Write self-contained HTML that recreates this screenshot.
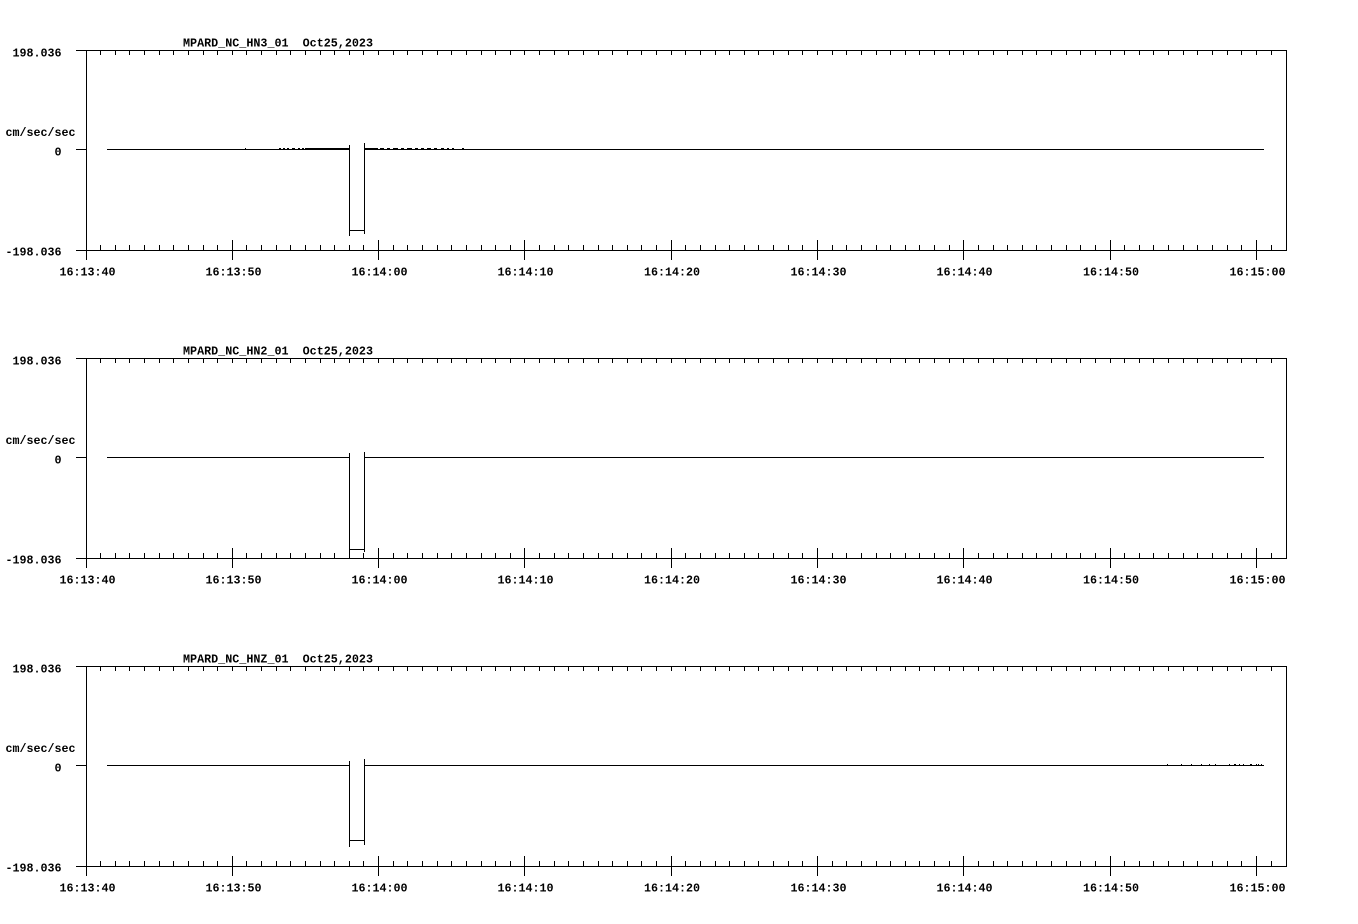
<!DOCTYPE html>
<html>
<head>
<meta charset="utf-8">
<style>
html,body{margin:0;padding:0;background:#fff;}
svg{display:block;}
text{font-family:"Liberation Mono","DejaVu Sans Mono",monospace;font-weight:bold;font-size:12.4px;fill:#000;white-space:pre;}
</style>
</head>
<body>
<svg width="1358" height="924" viewBox="0 0 1358 924" xmlns="http://www.w3.org/2000/svg" xml:space="preserve">
<defs>
<g id="axes">
  <path shape-rendering="crispEdges" stroke="#000" stroke-width="1" fill="none" d="
    M76 50.5 H1286.5 M76 250.5 H1286.5 M1286.5 50 V251 M86.5 50 V260
    M76 149.5 H86
    M232.5 240 V260 M378.5 240 V260 M524.5 240 V260 M671.5 240 V260 M817.5 240 V260 M963.5 240 V260 M1110.5 240 V260 M1256.5 240 V260
    M100.5 50 V55 M115.5 50 V55 M129.5 50 V55 M144.5 50 V55 M159.5 50 V55 M173.5 50 V55 M188.5 50 V55 M203.5 50 V55 M217.5 50 V55 M232.5 50 V55
    M246.5 50 V55 M261.5 50 V55 M276.5 50 V55 M290.5 50 V55 M305.5 50 V55 M320.5 50 V55 M334.5 50 V55 M349.5 50 V55 M363.5 50 V55 M378.5 50 V55
    M393.5 50 V55 M407.5 50 V55 M422.5 50 V55 M437.5 50 V55 M451.5 50 V55 M466.5 50 V55 M481.5 50 V55 M495.5 50 V55 M510.5 50 V55 M524.5 50 V55
    M539.5 50 V55 M554.5 50 V55 M568.5 50 V55 M583.5 50 V55 M598.5 50 V55 M612.5 50 V55 M627.5 50 V55 M641.5 50 V55 M656.5 50 V55 M671.5 50 V55
    M685.5 50 V55 M700.5 50 V55 M715.5 50 V55 M729.5 50 V55 M744.5 50 V55 M758.5 50 V55 M773.5 50 V55 M788.5 50 V55 M802.5 50 V55 M817.5 50 V55
    M832.5 50 V55 M846.5 50 V55 M861.5 50 V55 M876.5 50 V55 M890.5 50 V55 M905.5 50 V55 M919.5 50 V55 M934.5 50 V55 M949.5 50 V55 M963.5 50 V55
    M978.5 50 V55 M993.5 50 V55 M1007.5 50 V55 M1022.5 50 V55 M1036.5 50 V55 M1051.5 50 V55 M1066.5 50 V55 M1080.5 50 V55 M1095.5 50 V55 M1110.5 50 V55
    M1124.5 50 V55 M1139.5 50 V55 M1153.5 50 V55 M1168.5 50 V55 M1183.5 50 V55 M1197.5 50 V55 M1212.5 50 V55 M1227.5 50 V55 M1241.5 50 V55 M1256.5 50 V55
    M1271.5 50 V55
    M100.5 245 V250 M115.5 245 V250 M129.5 245 V250 M144.5 245 V250 M159.5 245 V250 M173.5 245 V250 M188.5 245 V250 M203.5 245 V250 M217.5 245 V250
    M246.5 245 V250 M261.5 245 V250 M276.5 245 V250 M290.5 245 V250 M305.5 245 V250 M320.5 245 V250 M334.5 245 V250 M349.5 245 V250 M363.5 245 V250
    M393.5 245 V250 M407.5 245 V250 M422.5 245 V250 M437.5 245 V250 M451.5 245 V250 M466.5 245 V250 M481.5 245 V250 M495.5 245 V250 M510.5 245 V250
    M539.5 245 V250 M554.5 245 V250 M568.5 245 V250 M583.5 245 V250 M598.5 245 V250 M612.5 245 V250 M627.5 245 V250 M641.5 245 V250 M656.5 245 V250
    M685.5 245 V250 M700.5 245 V250 M715.5 245 V250 M729.5 245 V250 M744.5 245 V250 M758.5 245 V250 M773.5 245 V250 M788.5 245 V250 M802.5 245 V250
    M832.5 245 V250 M846.5 245 V250 M861.5 245 V250 M876.5 245 V250 M890.5 245 V250 M905.5 245 V250 M919.5 245 V250 M934.5 245 V250 M949.5 245 V250
    M978.5 245 V250 M993.5 245 V250 M1007.5 245 V250 M1022.5 245 V250 M1036.5 245 V250 M1051.5 245 V250 M1066.5 245 V250 M1080.5 245 V250 M1095.5 245 V250
    M1124.5 245 V250 M1139.5 245 V250 M1153.5 245 V250 M1168.5 245 V250 M1183.5 245 V250 M1197.5 245 V250 M1212.5 245 V250 M1227.5 245 V250 M1241.5 245 V250
    M1271.5 245 V250
  "/>
  <text x="12.5" y="56.5" textLength="49" lengthAdjust="spacingAndGlyphs">198.036</text>
  <text x="54.5" y="155.5" textLength="7" lengthAdjust="spacingAndGlyphs">0</text>
  <text x="5.5" y="255.5" textLength="56" lengthAdjust="spacingAndGlyphs">-198.036</text>
  <text x="5.5" y="136" textLength="70" lengthAdjust="spacingAndGlyphs">cm/sec/sec</text>
  <text x="59.5" y="275.5" textLength="56" lengthAdjust="spacingAndGlyphs">16:13:40</text>
  <text x="205.5" y="275.5" textLength="56" lengthAdjust="spacingAndGlyphs">16:13:50</text>
  <text x="351.5" y="275.5" textLength="56" lengthAdjust="spacingAndGlyphs">16:14:00</text>
  <text x="497.5" y="275.5" textLength="56" lengthAdjust="spacingAndGlyphs">16:14:10</text>
  <text x="644" y="275.5" textLength="56" lengthAdjust="spacingAndGlyphs">16:14:20</text>
  <text x="790.5" y="275.5" textLength="56" lengthAdjust="spacingAndGlyphs">16:14:30</text>
  <text x="936.5" y="275.5" textLength="56" lengthAdjust="spacingAndGlyphs">16:14:40</text>
  <text x="1083" y="275.5" textLength="56" lengthAdjust="spacingAndGlyphs">16:14:50</text>
  <text x="1229.5" y="275.5" textLength="56" lengthAdjust="spacingAndGlyphs">16:15:00</text>
</g>
</defs>

<!-- Panel 1 -->
<g>
  <use href="#axes"/>
  <text x="183" y="46.5" textLength="190" lengthAdjust="spacingAndGlyphs">MPARD_NC_HN3_01&#160;&#160;Oct25,2023</text>
  <path shape-rendering="crispEdges" stroke="#000" stroke-width="1" fill="none" d="
    M107 149.5 H349 M365 149.5 H1264
    M305 148.5 H349 M365 148.5 H378
    M349.5 145 V236 M364.5 143 V234 M349 230.5 H365
    M245 148.5 H246 M279 148.5 H281 M283 148.5 H285 M287 148.5 H289 M292 148.5 H295 M298 148.5 H300 M302 148.5 H304
    M380 148.5 H384 M387 148.5 H390 M393 148.5 H398 M401 148.5 H404 M407 148.5 H412 M415 148.5 H418 M421 148.5 H424 M427 148.5 H431 M434 148.5 H437 M441 148.5 H444 M447 148.5 H449 M452 148.5 H454 M462 148.5 H464
  "/>
</g>

<!-- Panel 2 -->
<g transform="translate(0,308)">
  <use href="#axes"/>
  <text x="183" y="46.5" textLength="190" lengthAdjust="spacingAndGlyphs">MPARD_NC_HN2_01&#160;&#160;Oct25,2023</text>
  <path shape-rendering="crispEdges" stroke="#000" stroke-width="1" fill="none" d="
    M107 149.5 H349 M365 149.5 H1264
    M349.5 145 V251 M364.5 144 V244 M349 241.5 H365
  "/>
</g>

<!-- Panel 3 -->
<g transform="translate(0,616)">
  <use href="#axes"/>
  <text x="183" y="46.5" textLength="190" lengthAdjust="spacingAndGlyphs">MPARD_NC_HNZ_01&#160;&#160;Oct25,2023</text>
  <path shape-rendering="crispEdges" stroke="#000" stroke-width="1" fill="none" d="
    M107 149.5 H349 M365 149.5 H1264
    M349.5 145 V231 M364.5 143 V229 M349 224.5 H365
    M1167 148.5 H1168 M1181 148.5 H1182 M1191 148.5 H1192 M1201 148.5 H1202 M1209 148.5 H1210 M1215 148.5 H1216 M1229 148.5 H1230 M1234 148.5 H1236 M1239 148.5 H1240 M1243 148.5 H1244 M1250 148.5 H1252 M1256 148.5 H1257 M1258 148.5 H1259 M1261 148.5 H1262
  "/>
</g>
</svg>
</body>
</html>
